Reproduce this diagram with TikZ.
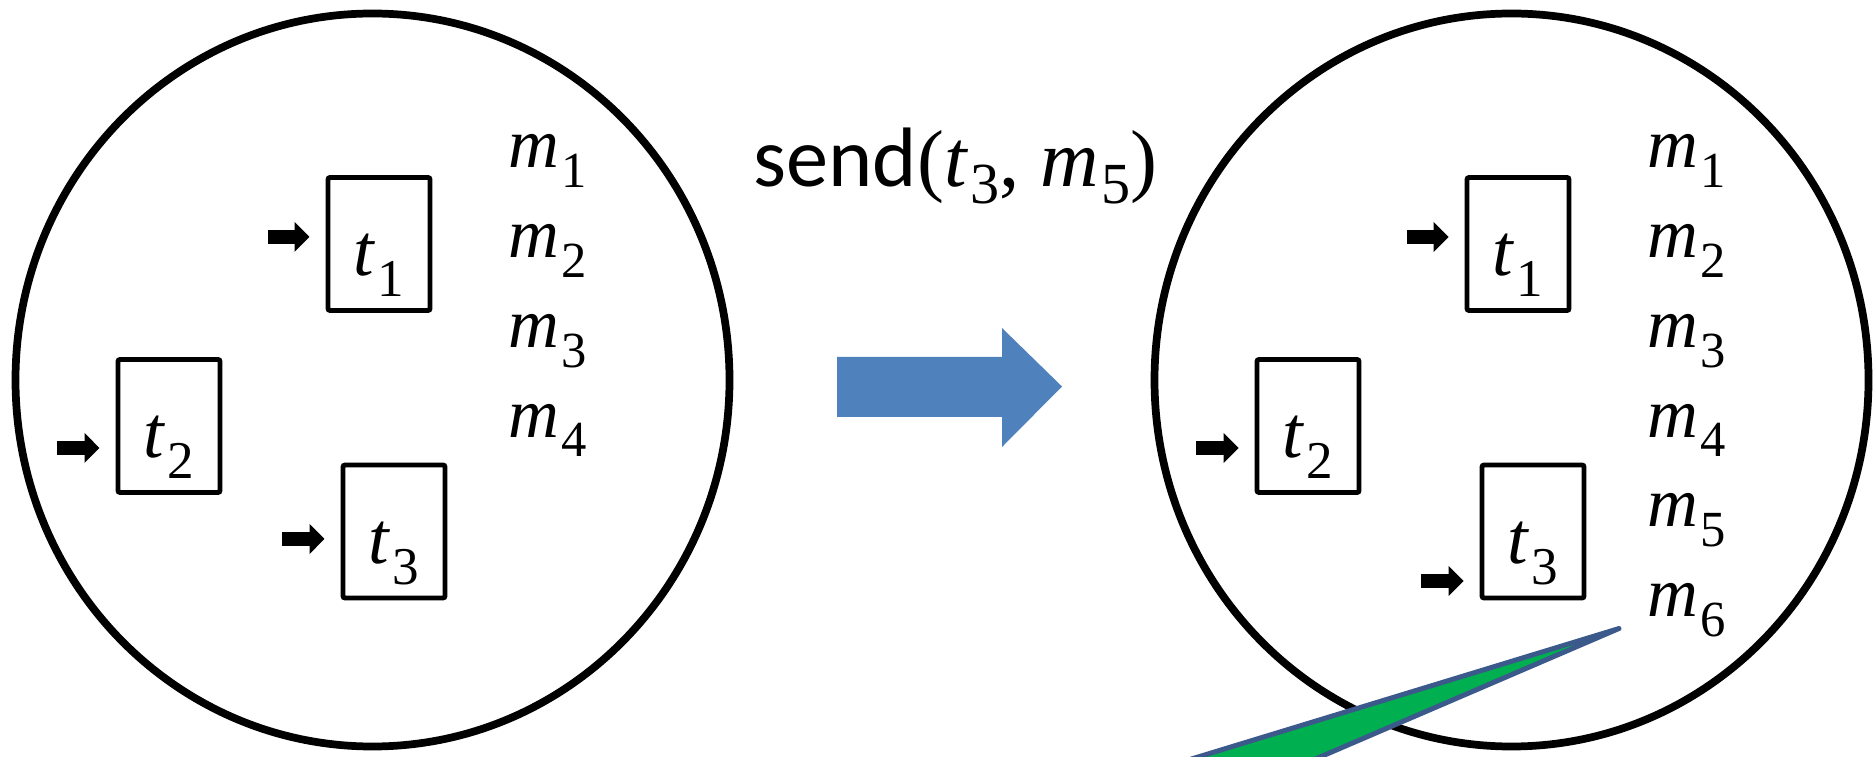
\documentclass[tikz,border=0pt]{standalone}
\usepackage{fontspec}
\setmainfont{Liberation Serif}
\newfontfamily\callfont{Carlito}
\usetikzlibrary{arrows.meta,calc}

\definecolor{sendblue}{RGB}{79,129,189}
\definecolor{notegreen}{RGB}{0,176,80}
\definecolor{noteedge}{RGB}{59,89,139}

% italic name with a lowered, smaller index
\newcommand{\vsub}[3][0.28em]{\textit{#2}\kern0.03em\raisebox{-#1}{\scalebox{0.72}{#3}}}

\begin{document}
\begin{tikzpicture}[x=1cm,y=-1cm]
   \tikzstyle{world}=[line width=2.2pt]
   \tikzstyle{thread}=[draw, line width=1.4pt, rounded corners=0.6pt, minimum width=1.02cm, minimum height=1.33cm, inner sep=0pt]
   \tikzstyle{tname}=[anchor=base, inner sep=0pt, font=\fontsize{21}{25}\selectfont]
   \tikzstyle{msg}=[anchor=base west, inner sep=0pt, font=\fontsize{20}{24}\selectfont]
   \tikzstyle{pc}=[line width=0.14cm, shorten >=0.16cm, -{Triangle[length=0.15cm,width=0.29cm]}]
   \useasboundingbox (0,0) rectangle (18.74,7.57);

   % before the send
   \draw[world] (3.725,3.80) ellipse (3.57 and 3.665);
   \node[thread] (t1) at (3.79,2.44) {};
   \node[thread] (t2) at (1.69,4.26) {};
   \node[thread] (t3) at (3.94,5.315) {};
   \node[tname] (t1name) at ($(t1.center)+(0,0.32)$) {\vsub{t}{1}};
   \node[tname] (t2name) at ($(t2.center)+(0,0.32)$) {\vsub{t}{2}};
   \node[tname] (t3name) at ($(t3.center)+(0,0.32)$) {\vsub{t}{3}};
   \coordinate (pc1) at (2.68,2.37);
   \coordinate (pc2) at (0.57,4.48);
   \coordinate (pc3) at (2.82,5.39);
   \draw[pc] (pc1) -- (pc1 -| t1.west);
   \draw[pc] (pc2) -- (pc2 -| t2.west);
   \draw[pc] (pc3) -- (pc3 -| t3.west);
   \node[msg] (m1) at (5.08,1.68) {\vsub{m}{1}};
   \node[msg] (m2) at (5.08,2.577) {\vsub{m}{2}};
   \node[msg] (m3) at (5.08,3.474) {\vsub{m}{3}};
   \node[msg] (m4) at (5.08,4.371) {\vsub{m}{4}};

   % the step
   \node[anchor=base west, inner sep=0pt] (send) at (7.53,1.87)
     {{\callfont\fontsize{24}{29}\selectfont send}{\fontsize{23}{28}\selectfont(\vsub[0.2em]{t}{3}, \vsub[0.2em]{m}{5})}};
   \fill[sendblue] (8.37,3.57) -- (10.02,3.57) -- (10.02,3.28) -- (10.62,3.865)
     -- (10.02,4.47) -- (10.02,4.17) -- (8.37,4.17) -- cycle;

   % after the send
   \begin{scope}[xshift=11.39cm]
   \draw[world] (3.725,3.80) ellipse (3.57 and 3.665);
   \node[thread] (t1n) at (3.79,2.44) {};
   \node[thread] (t2n) at (1.69,4.26) {};
   \node[thread] (t3n) at (3.94,5.315) {};
   \node[tname] (t1nname) at ($(t1n.center)+(0,0.32)$) {\vsub{t}{1}};
   \node[tname] (t2nname) at ($(t2n.center)+(0,0.32)$) {\vsub{t}{2}};
   \node[tname] (t3nname) at ($(t3n.center)+(0,0.32)$) {\vsub{t}{3}};
   \coordinate (pc1n) at (2.68,2.37);
   \coordinate (pc2n) at (0.57,4.48);
   \coordinate (pc3n) at (2.82,5.81);
   \draw[pc] (pc1n) -- (pc1n -| t1n.west);
   \draw[pc] (pc2n) -- (pc2n -| t2n.west);
   \draw[pc] (pc3n) -- (pc3n -| t3n.west);
   \node[msg] (m1n) at (5.08,1.68) {\vsub{m}{1}};
   \node[msg] (m2n) at (5.08,2.577) {\vsub{m}{2}};
   \node[msg] (m3n) at (5.08,3.474) {\vsub{m}{3}};
   \node[msg] (m4n) at (5.08,4.371) {\vsub{m}{4}};
   \node[msg] (m5n) at (5.08,5.268) {\vsub{m}{5}};
   \node[msg] (m6n) at (5.08,6.165) {\vsub{m}{6}};
   \end{scope}

   % pointer of a note below the frame
   \begin{scope}
   \clip (0,0) rectangle (18.74,7.57);
   \filldraw[fill=notegreen, draw=noteedge, line width=1.4pt, line join=round]
     (16.19,6.285) -- (10.57,8.00) -- (12.20,8.00) -- cycle;
   \end{scope}
\end{tikzpicture}
\end{document}
